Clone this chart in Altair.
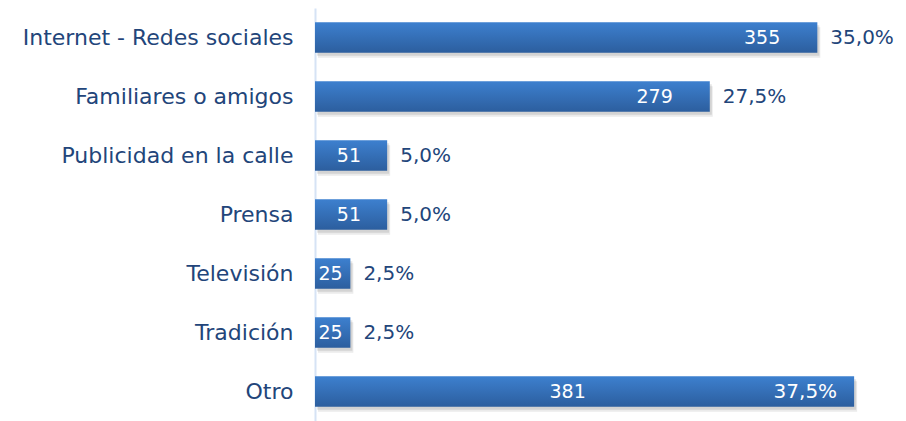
import altair as alt
import pandas as pd

categories = ["Internet - Redes sociales", "Familiares o amigos", "Publicidad en la calle",
              "Prensa", "Televisión", "Tradición", "Otro"]
counts = [355, 279, 51, 51, 25, 25, 381]
percents = ["35,0%", "27,5%", "5,0%", "5,0%", "2,5%", "2,5%", "37,5%"]

df = pd.DataFrame({"cat": categories, "n": counts, "pct": percents})
df["inside_pct"] = df["n"] >= 370
# count-label anchor, derived from the bar length
df["cpos"] = [
    (v / 2 - 12) if big else (v - 39 if v >= 100 else v / 2 - 1.5)
    for v, big in zip(df["n"], df["inside_pct"])
]

FONT = "DejaVu Sans"
W = "normal"
NAVY = "#22457a"
order = categories

y = alt.Y("cat:N", sort=order, title=None,
          scale=alt.Scale(paddingInner=0.48, paddingOuter=0.24),
          axis=alt.Axis(labelFont=FONT, labelFontSize=22, labelFontWeight=W,
                        labelColor=NAVY, labelPadding=22, ticks=False,
                        domainColor="#d6e3f5", domainWidth=2, labelLimit=400))
xscale = alt.Scale(domain=[0, 412], nice=False)
x = alt.X("n:Q", title=None, scale=xscale, axis=None)
xc = alt.X("cpos:Q", title=None, scale=xscale, axis=None)

base = alt.Chart(df)

shadow1 = base.mark_bar(color="#000000", opacity=0.10, yOffset=3, xOffset=2).encode(x=x, y=y)
shadow2 = base.mark_bar(color="#000000", opacity=0.08, yOffset=5, xOffset=3).encode(x=x, y=y)

grad = {"gradient": "linear", "x1": 0, "x2": 0, "y1": 0, "y2": 1,
        "stops": [{"offset": 0, "color": "#3d80cf"},
                  {"offset": 1, "color": "#2c5e9e"}]}
bars = base.mark_bar(color=grad).encode(x=x, y=y)

count_lbl = base.mark_text(font=FONT, fontSize=19, fontWeight=W, color="white",
                           align="center", baseline="middle").encode(x=xc, y=y, text="n:Q")

pct_out = base.transform_filter("!datum.inside_pct").mark_text(
    font=FONT, fontSize=20, fontWeight=W, color=NAVY, align="left", baseline="middle", dx=13
).encode(x=x, y=y, text="pct:N")

pct_in = base.transform_filter("datum.inside_pct").mark_text(
    font=FONT, fontSize=20, fontWeight=W, color="white", align="right", baseline="middle", dx=-17
).encode(x=x, y=y, text="pct:N")

chart = alt.layer(shadow2, shadow1, bars, count_lbl, pct_out, pct_in).properties(
    width=583, height=413,
    padding={"left": 307, "top": 0, "right": 0, "bottom": 0},
    autosize=alt.AutoSizeParams(type="none"),
    background="white",
).configure_view(stroke=None)

chart.save("out.html", embed_options={"renderer": "svg", "actions": False})
